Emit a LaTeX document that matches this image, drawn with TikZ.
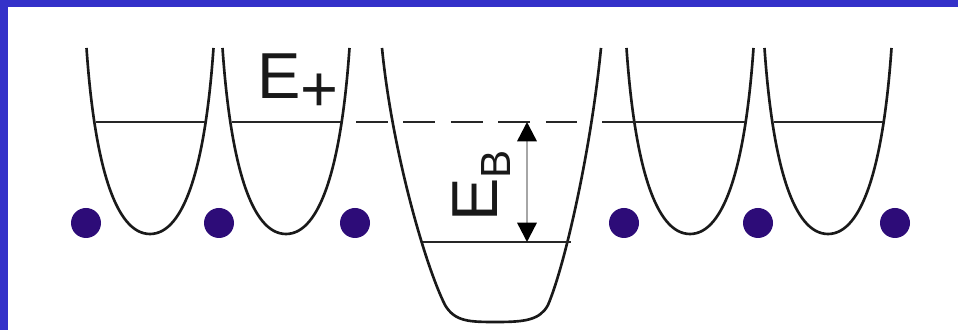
\documentclass[tikz,border=0pt]{standalone}
\usepackage{fontspec}
\setmainfont{Liberation Sans}
\usetikzlibrary{arrows.meta}

\definecolor{frameblue}{RGB}{52,49,201}
\definecolor{iondot}{RGB}{45,12,120}

\newcommand{\lev}{
\def\ytop{48}    % upper end of the wells
\def\yp{122}     % free level E+
\def\yb{242}     % bound level
\def\yion{223}   % row of ions
\def\rion{15}
}

\tikzset{
  well/.style={line width=1.5pt, black!90},
  level/.style={line width=0.85pt, black!85},
  lbl/.style={inner sep=0pt, text=black!90, font=\fontsize{37}{40}\selectfont},
  gap/.style={line width=1.4pt, black!35,
    {Triangle[length=11pt,width=11pt,color=black]}-{Triangle[length=11pt,width=11pt,color=black]}}
}

\begin{document}
\begin{tikzpicture}[x=0.02cm,y=-0.02cm]
  \lev
  \useasboundingbox (0,0) rectangle (958,330);
  \fill[frameblue] (0,0) rectangle (958,330);
  \fill[white] (7.5,7.5) rectangle (958,330);
%
  % small wells
  \draw[well] (86.5,\ytop) .. controls +(8,115) and +(-35,0) .. (150,234)
                           .. controls +(35,0) and +(-8,115) .. (213.5,\ytop);
  \draw[well] (222.5,\ytop) .. controls +(8,115) and +(-35,0) .. (286,234)
                            .. controls +(35,0) and +(-8,115) .. (349.5,\ytop);
  \draw[well] (626.5,\ytop) .. controls +(8,115) and +(-35,0) .. (690,234)
                            .. controls +(35,0) and +(-8,115) .. (753.5,\ytop);
  \draw[well] (764.5,\ytop) .. controls +(8,115) and +(-35,0) .. (828,234)
                            .. controls +(35,0) and +(-8,115) .. (891.5,\ytop);
  % deep well
  \draw[well] (382,\ytop) .. controls (392,150) and (425,265) .. (445,305)
              .. controls (455,322) and (470,322) .. (497,322)
              .. controls (525,322) and (540,320) .. (548,305)
              .. controls (565,265) and (591,150) .. (601,\ytop);
%
  \draw[level] (95.5,\yp) -- (204.5,\yp);
  \draw[level] (231.5,\yp) -- (340.5,\yp);
  \draw[level, dash pattern=on 18pt off 9pt] (356,\yp) -- (590,\yp);
  \draw[level] (602,\yp) -- (744.5,\yp);
  \draw[level] (773.5,\yp) -- (882.5,\yp);
  \draw[level] (423,\yb) -- (571,\yb);
%
  \fill[iondot] (86,\yion) circle (\rion);
  \fill[iondot] (219,\yion) circle (\rion);
  \fill[iondot] (355,\yion) circle (\rion);
  \fill[iondot] (624,\yion) circle (\rion);
  \fill[iondot] (758,\yion) circle (\rion);
  \fill[iondot] (895,\yion) circle (\rion);
%
  \node[lbl, anchor=base west] (eplus) at (257,99) {E\raisebox{-7.4pt}{+}};
  \node[lbl, anchor=base west, rotate=90] (ebind) at (497,222)
       {E\raisebox{-7.4pt}{\fontsize{24}{24}\selectfont B}};
  \coordinate (bup) at (527,\yp);
  \coordinate (bdn) at (527,\yb);
  \draw[gap] (bup) -- (bdn);
\end{tikzpicture}
\end{document}
